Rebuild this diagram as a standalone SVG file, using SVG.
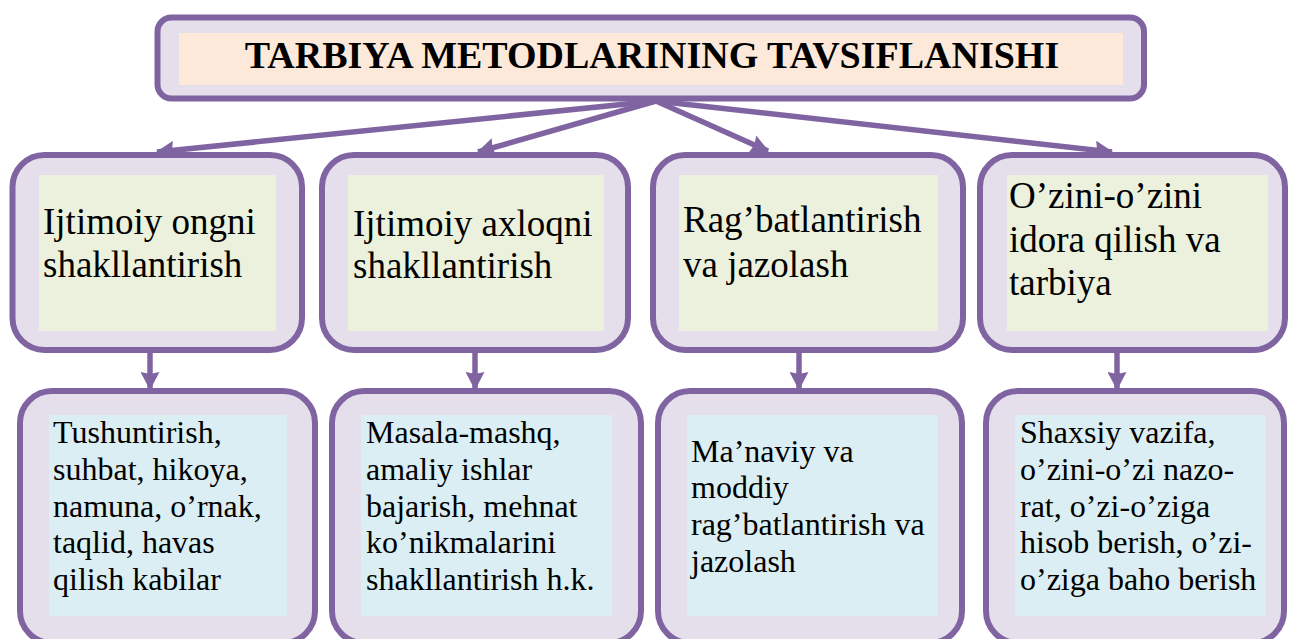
<svg xmlns="http://www.w3.org/2000/svg" width="1289" height="639" viewBox="0 0 1289 639">
<defs>
<style>
.outer{fill:#E5DFEC;stroke:#8064A2;stroke-width:6}
.title-in{fill:#FDE9D9}
.green{fill:#EBF1DD}
.blue{fill:#DBEEF3}
text{font-family:'Liberation Serif','Times New Roman',serif;fill:#000}
.t1{font-size:37px}
.t2{font-size:32px}
.title{font-size:38px;font-weight:bold}
.conn{stroke:#8064A2;stroke-width:5.5;fill:none}
</style>
<marker id="ah" viewBox="0 0 18 19" refX="17" refY="9.5" markerWidth="18" markerHeight="19" markerUnits="userSpaceOnUse" orient="auto">
<path d="M0,0 L18,9.5 L0,19 L2,9.5 z" fill="#8064A2"/>
</marker>
</defs>
<rect width="1289" height="639" fill="#fff"/>

<g id="connectors">
<line class="conn" x1="656" y1="101" x2="157" y2="152" marker-end="url(#ah)"/>
<line class="conn" x1="656" y1="101" x2="478" y2="152" marker-end="url(#ah)"/>
<line class="conn" x1="656" y1="101" x2="768" y2="151" marker-end="url(#ah)"/>
<line class="conn" x1="656" y1="101" x2="1112" y2="152" marker-end="url(#ah)"/>
<line class="conn" x1="150" y1="352" x2="150" y2="389" marker-end="url(#ah)"/>
<line class="conn" x1="475" y1="352" x2="475" y2="389" marker-end="url(#ah)"/>
<line class="conn" x1="799" y1="352" x2="799" y2="389" marker-end="url(#ah)"/>
<line class="conn" x1="1117" y1="352" x2="1117" y2="389" marker-end="url(#ah)"/>
</g>

<g id="title">
<rect class="outer" x="157.5" y="17.5" width="986.5" height="81" rx="14"/>
<rect class="title-in" x="179" y="33" width="944" height="52"/>
<text class="title" x="652" y="68" text-anchor="middle">TARBIYA METODLARINING TAVSIFLANISHI</text>
</g>

<g id="n1">
<rect class="outer" x="12.5" y="155" width="289.5" height="195" rx="32"/>
<rect class="green" x="39" y="175" width="237" height="156"/>
<text class="t1" x="43" y="234">Ijtimoiy ongni</text>
<text class="t1" x="43" y="277">shakllantirish</text>
</g>

<g id="n2">
<rect class="outer" x="322" y="155" width="306" height="195" rx="32"/>
<rect class="green" x="348" y="175" width="256" height="156"/>
<text class="t1" x="353" y="236">Ijtimoiy axloqni</text>
<text class="t1" x="353" y="278">shakllantirish</text>
</g>

<g id="n3">
<rect class="outer" x="653" y="155" width="310" height="195" rx="32"/>
<rect class="green" x="679" y="175" width="259" height="156"/>
<text class="t1" x="683" y="232">Rag’batlantirish</text>
<text class="t1" x="683" y="277">va jazolash</text>
</g>

<g id="n4">
<rect class="outer" x="980" y="155" width="305" height="195" rx="32"/>
<rect class="green" x="1007" y="175" width="261" height="156"/>
<text class="t1" x="1009" y="208">O’zini-o’zini</text>
<text class="t1" x="1009" y="252">idora qilish va</text>
<text class="t1" x="1009" y="295">tarbiya</text>
</g>

<g id="m1">
<rect class="outer" x="20" y="391" width="295" height="252" rx="32"/>
<rect class="blue" x="49" y="415" width="238" height="201"/>
<text class="t2" x="53" y="443">Tushuntirish,</text>
<text class="t2" x="53" y="480">suhbat, hikoya,</text>
<text class="t2" x="53" y="517">namuna, o’rnak,</text>
<text class="t2" x="53" y="553">taqlid, havas</text>
<text class="t2" x="53" y="590">qilish kabilar</text>
</g>

<g id="m2">
<rect class="outer" x="332" y="391" width="309" height="252" rx="32"/>
<rect class="blue" x="361" y="415" width="251" height="201"/>
<text class="t2" x="366" y="443">Masala-mashq,</text>
<text class="t2" x="366" y="480">amaliy ishlar</text>
<text class="t2" x="366" y="517">bajarish, mehnat</text>
<text class="t2" x="366" y="553">ko’nikmalarini</text>
<text class="t2" x="366" y="590">shakllantirish h.k.</text>
</g>

<g id="m3">
<rect class="outer" x="658" y="391" width="304" height="252" rx="32"/>
<rect class="blue" x="687" y="415" width="251" height="201"/>
<text class="t2" x="691" y="462">Ma’naviy va</text>
<text class="t2" x="691" y="498">moddiy</text>
<text class="t2" x="691" y="535">rag’batlantirish va</text>
<text class="t2" x="691" y="572">jazolash</text>
</g>

<g id="m4">
<rect class="outer" x="986" y="391" width="298" height="252" rx="32"/>
<rect class="blue" x="1015" y="415" width="251" height="201"/>
<text class="t2" x="1020" y="443">Shaxsiy vazifa,</text>
<text class="t2" x="1020" y="480">o’zini-o’zi nazo-</text>
<text class="t2" x="1020" y="517">rat, o’zi-o’ziga</text>
<text class="t2" x="1020" y="553">hisob berish, o’zi-</text>
<text class="t2" x="1020" y="590">o’ziga baho berish</text>
</g>
</svg>
